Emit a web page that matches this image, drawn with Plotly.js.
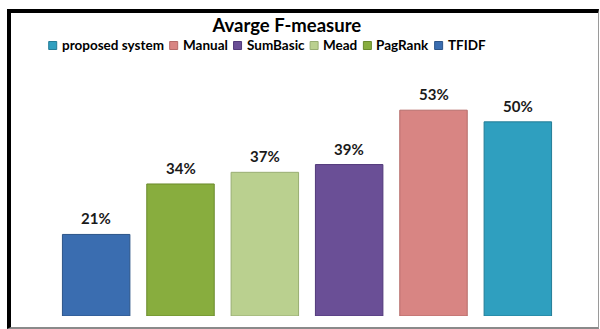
<!DOCTYPE html>
<html>
<head>
<meta charset="utf-8">
<script src="https://cdn.plot.ly/plotly-3.0.1.min.js"></script>
<style>
  html, body { margin: 0; padding: 0; background: #fff; }
  #wrap { position: relative; width: 600px; height: 329px; overflow: hidden; }
  #chart { position: absolute; left: 0; top: 0; width: 600px; height: 329px; }
  #frame { position: absolute; left: 7px; top: 9px; width: 587px; height: 314px;
           border-left: 4px solid #000; border-top: 4px solid #000;
           border-right: 1px solid #9a9a9a; border-bottom: 2px solid #8a8a8a;
           pointer-events: none; }
</style>
</head>
<body>
<div id="wrap">
  <div id="chart"></div>
  <div id="frame"></div>
</div>
<script>
// Bars in drawing order (left to right)
const categories = ["TFIDF", "PagRank", "Mead", "SumBasic", "Manual", "proposed system"];
const values = [21, 34, 37, 39, 53, 50];
const colors = ["#3a6db0", "#88ad3e", "#bad08f", "#6a4f96", "#d88583", "#2f9fbf"];
const lineColors = ["#2c5488", "#6a8a2c", "#98ad72", "#51397a", "#b56b69", "#237c96"];
const labels = values.map(v => v + "%");
// Legend order as shown in the reference
const legendOrder = ["proposed system", "Manual", "SumBasic", "Mead", "PagRank", "TFIDF"];

const FONT = "Lato, 'Open Sans', sans-serif";

// Plot area geometry (pixels)
const W = 600, H = 329;
const M = { l: 54, r: 40, t: 83, b: 13 };
const PW = W - M.l - M.r, PH = H - M.t - M.b;
const px2paperX = px => (px - M.l) / PW;
const py2paperY = py => (H - M.b - py) / PH;

const traces = categories.map((c, i) => ({
  type: "bar",
  name: c,
  x: [c],
  y: [values[i]],
  width: 0.8,
  showlegend: false,
  marker: { color: colors[i], line: { color: lineColors[i], width: 1 } },
  hoverinfo: "skip"
}));

const annotations = categories.map((c, i) => ({
  x: c, y: values[i], xref: "x", yref: "y",
  text: "<b>" + labels[i] + "</b>", showarrow: false,
  yanchor: "bottom", yshift: 5,
  font: { family: FONT, size: 15, color: "#1a1a1a" }
}));

// Custom compact legend (Excel style): small square + bold text
const legFontSize = 13.5;
const ctx = document.createElement("canvas").getContext("2d");
ctx.font = "bold " + legFontSize + "px Lato, 'Open Sans', sans-serif";
const sq = 8, sqToText = 13, textToNext = 6;
const widths = legendOrder.map(n => ctx.measureText(n).width);
let total = 0;
widths.forEach((w, i) => { total += sqToText + w + (i < widths.length - 1 ? textToNext : 0); });
const legCenterX = 267, legCenterY = 45.5;
let cx = legCenterX - total / 2;
const shapes = [];
legendOrder.forEach((n, k) => {
  const i = categories.indexOf(n);
  shapes.push({
    type: "rect", xref: "paper", yref: "paper",
    x0: px2paperX(cx), x1: px2paperX(cx + sq),
    y0: py2paperY(legCenterY + sq / 2), y1: py2paperY(legCenterY - sq / 2),
    fillcolor: colors[i], line: { color: lineColors[i], width: 1 }
  });
  annotations.push({
    xref: "paper", yref: "paper",
    x: px2paperX(cx + sqToText - 1), y: py2paperY(legCenterY),
    xanchor: "left", yanchor: "middle", showarrow: false,
    borderpad: 0,
    text: "<b>" + n + "</b>",
    font: { family: FONT, size: legFontSize, color: "#000" }
  });
  cx += sqToText + widths[k] + textToNext;
});

const layout = {
  width: W, height: H,
  margin: M,
  paper_bgcolor: "#ffffff",
  plot_bgcolor: "#ffffff",
  barmode: "overlay",
  showlegend: false,
  title: {
    text: "<b>Avarge F-measure</b>",
    x: 0.478, xanchor: "center",
    y: 1 - 25.5 / H, yanchor: "middle",
    font: { family: FONT, size: 18.5, color: "#000" }
  },
  xaxis: {
    categoryorder: "array", categoryarray: categories,
    showticklabels: false, showgrid: false, zeroline: false,
    showline: false, ticks: "", fixedrange: true
  },
  yaxis: {
    range: [0, 60], visible: false, showgrid: false, zeroline: false, fixedrange: true
  },
  shapes: shapes,
  annotations: annotations
};

Plotly.newPlot("chart", traces, layout, { displayModeBar: false, staticPlot: true });
</script>
</body>
</html>
